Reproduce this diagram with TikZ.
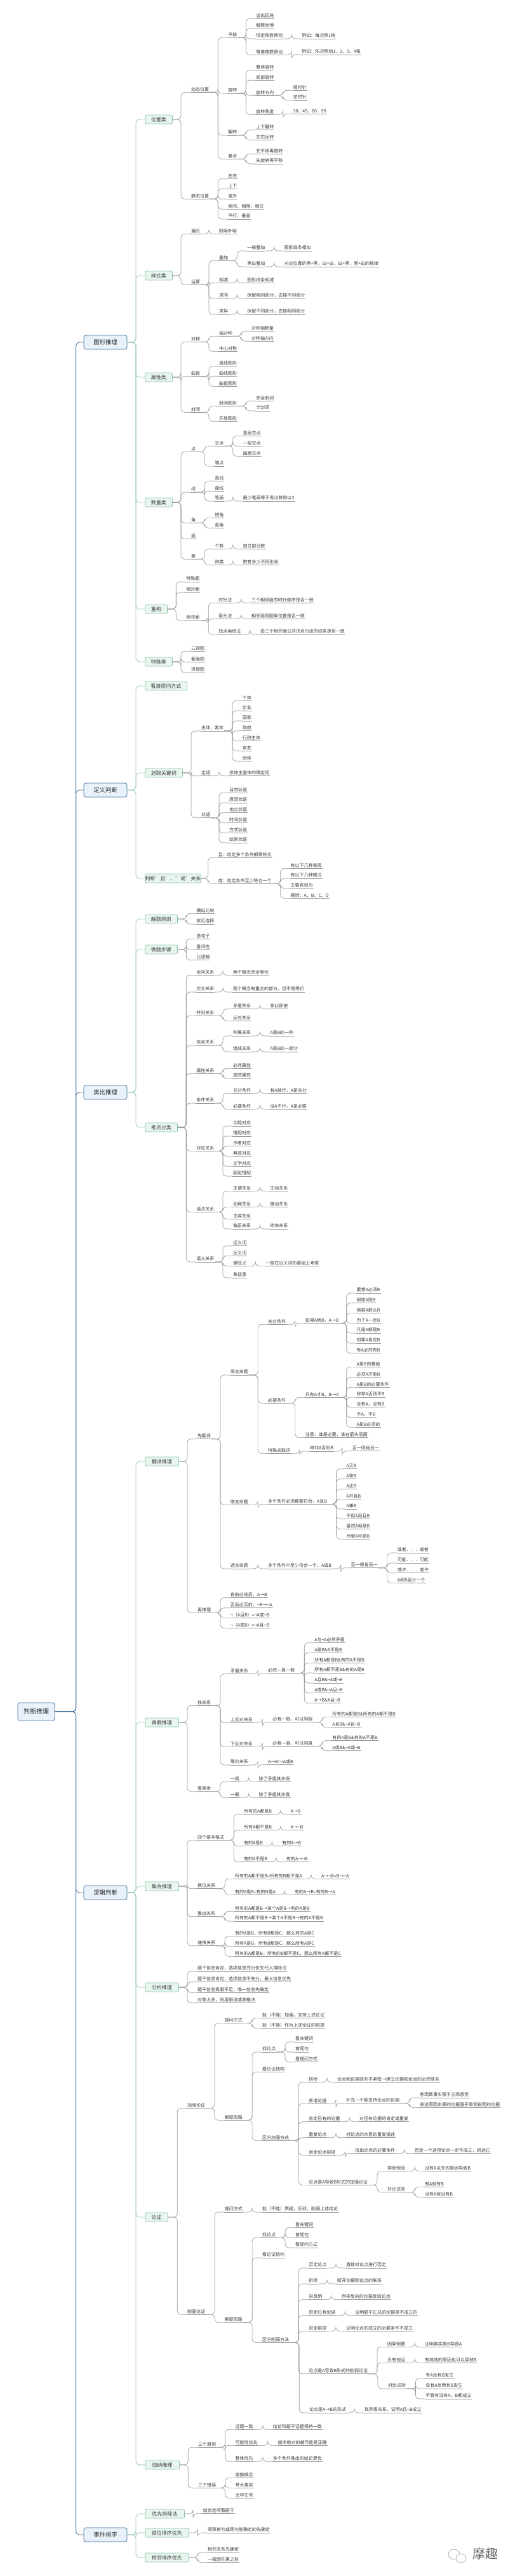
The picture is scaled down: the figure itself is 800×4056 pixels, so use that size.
\documentclass[tikz,border=0pt]{standalone}
\usepackage{fontspec}
\setmainfont{Noto Sans CJK SC}
\definecolor{txt}{HTML}{3A3A3A}
\definecolor{gline}{HTML}{9A9A9A}
\definecolor{tline}{HTML}{A3CDB6}
\definecolor{tfill}{HTML}{E8F6EF}
\definecolor{tedge}{HTML}{8FC7A8}
\definecolor{mline}{HTML}{3F6E9E}
\definecolor{mfill}{HTML}{E9F1FA}
\tikzset{
  znarrow/.style={shift={(100pt,-#1 pt)},x=0.33333pt,y=-0.33333pt},
  zwide/.style={shift={(100pt,-#1 pt)},x=0.45167pt,y=-0.33333pt},
  zfull/.style={shift={(0pt,-#1 pt)},x=0.51613pt,y=-0.33333pt},
  leaftxt/.style={anchor=south west,inner xsep=0.8pt,inner ysep=1pt,text height=6.2pt,text depth=1pt,text=txt,font=\fontsize{7}{7}\selectfont},
  uline/.style={draw=gline,line width=0.6pt},
  conn/.style={draw=gline,line width=0.7pt,rounded corners=6pt},
  topicb/.style={draw=tedge,fill=tfill,line width=0.8pt,rounded corners=2pt,minimum height=14pt,inner sep=0pt,anchor=west,text=txt,font=\fontsize{8}{8}\selectfont},
  topicconn/.style={draw=tline,line width=0.9pt,rounded corners=6pt},
  mainb/.style={draw=mline,fill=mfill,line width=0.8pt,rounded corners=3pt,minimum width=68pt,minimum height=22pt,inner sep=0pt,text=black!85,font=\fontsize{9.3}{9.3}\selectfont},
  mainconn/.style={draw=mline,line width=0.8pt,rounded corners=6pt},
}
\newcommand{\LeafN}[5]{%
  \node[leaftxt] (#1) at (#3,#4) {#5};
  \draw[uline] (#1.south west) -- (#1.south east);
  \draw[conn] (#2-o) -| ([xshift=-15pt]#1.south west) -- (#1.south west);
  \coordinate (#1-o) at (#1.south east);}
\newcommand{\MainB}[4]{%
  \node[mainb] (#1) at (#2,#3) {#4};
  \draw[mainconn] (root.east) -| ([xshift=-12pt]#1.west) -- (#1.west);}
\newcommand{\TopicB}[5]{%
  \node[topicb,minimum width=#4pt] (#1) at (228,#3) {#5};
  \draw[topicconn] (#2.east) -| ([xshift=-14pt]#1.west) -- (#1.west);
  \coordinate (#1-o) at (#1.east);}
\begin{document}
\begin{tikzpicture}[x=1pt,y=-1pt]
\useasboundingbox (0,0) rectangle (800,4056);
\fill[white] (0,0) rectangle (800,4056);
\node[mainb,minimum width=58pt,minimum height=28pt,font=\fontsize{10}{10}\selectfont] (root) at (57,2695) {判断推理};
\MainB{mA}{166}{539}{图形推理}
\MainB{mB}{166}{1244}{定义判断}
\MainB{mC}{166}{1720}{类比推理}
\MainB{mD}{166}{2980}{逻辑判断}
\MainB{mE}{166}{3991}{事件排序}
\TopicB{wz}{mA}{188}{43}{位置类}
\TopicB{ys}{mA}{434}{43}{样式类}
\TopicB{sx}{mA}{594}{43}{属性类}
\TopicB{sl}{mA}{791}{43}{数量类}
\TopicB{cg}{mA}{959}{35}{重构}
\TopicB{ts}{mA}{1042}{43}{特殊类}
\TopicB{kq}{mB}{1080}{66}{看清提问方式}
\TopicB{hq}{mB}{1217}{59}{划取关键词}
\TopicB{pd}{mB}{1383}{85}{判断'且'、'或'关系}
\TopicB{jt}{mC}{1447}{51}{解题原则}
\TopicB{zt}{mC}{1495}{51}{做题步骤}
\TopicB{kd}{mC}{1775}{51}{考点分类}
\TopicB{fy}{mD}{2301}{53}{翻译推理}
\TopicB{zj}{mD}{2712}{53}{真假推理}
\TopicB{jh}{mD}{2970}{53}{集合推理}
\TopicB{fx}{mD}{3129}{53}{分析推理}
\TopicB{lz}{mD}{3491}{36}{论证}
\TopicB{gn}{mD}{3881}{54}{归纳推理}
\TopicB{yx}{mE}{3958}{62}{优先排除法}
\TopicB{sw}{mE}{3988}{69}{首位排序优先}
\TopicB{xl}{mE}{4027}{69}{相邻排序优先}

\begin{scope}[znarrow=0]
\LeafN{dt}{wz}{600}{436}{动态位置}
\LeafN{py}{dt}{775}{178}{平移}
\LeafN{py1}{py}{907}{88}{溢出回底}
\LeafN{py2}{py}{907}{135}{触壁反弹}
\LeafN{py3}{py}{907}{183}{恒定格数移动}
\LeafN{py3a}{py3}{1123}{183}{例如：每次移1格}
\LeafN{py4}{py}{907}{259}{等差格数移动}
\LeafN{py4a}{py4}{1123}{258}{例如：依次移动1、2、3、4格}
\LeafN{xz}{dt}{775}{441}{旋转}
\LeafN{xz1}{xz}{907}{332}{整体旋转}
\LeafN{xz2}{xz}{907}{379}{局部旋转}
\LeafN{xz3}{xz}{907}{451}{旋转方向}
\LeafN{xz3a}{xz3}{1082}{427}{顺时针}
\LeafN{xz3b}{xz3}{1082}{474}{逆时针}
\LeafN{xz4}{xz}{907}{541}{旋转角度}
\LeafN{xz4a}{xz4}{1082}{538}{30、45、60、90}
\LeafN{fz}{dt}{775}{639}{翻转}
\LeafN{fz1}{fz}{907}{614}{上下翻转}
\LeafN{fz2}{fz}{907}{661}{左右反转}
\LeafN{fh}{dt}{775}{751}{复合}
\LeafN{fh1}{fh}{907}{727}{先平移再旋转}
\LeafN{fh2}{fh}{907}{774}{先旋转再平移}
\LeafN{jtw}{wz}{600}{940}{静态位置}
\LeafN{jt1}{jtw}{775}{845}{左右}
\LeafN{jt2}{jtw}{775}{892}{上下}
\LeafN{jt3}{jtw}{775}{940}{里外}
\LeafN{jt4}{jtw}{775}{988}{相邻、相隔、相交}
\LeafN{jt5}{jtw}{775}{1035}{平行、垂直}
\end{scope}

\begin{scope}[znarrow=340]
\LeafN{bl}{ys}{600}{85}{遍历}
\LeafN{bl1}{bl}{732}{85}{缺啥补啥}
\LeafN{ys2}{ys}{600}{325}{运算}
\LeafN{dj}{ys2}{732}{211}{叠加}
\LeafN{dj1}{dj}{865}{165}{一般叠加}
\LeafN{dj1a}{dj1}{1040}{165}{图形线条相加}
\LeafN{dj2}{dj}{865}{240}{黑白叠加}
\LeafN{dj2a}{dj2}{1040}{240}{对应位置的黑+黑，白+白，白+黑，黑+白的规律}
\LeafN{xj}{ys2}{732}{316}{相减}
\LeafN{xj1}{xj}{865}{316}{图形线条相减}
\LeafN{qt}{ys2}{732}{390}{求同}
\LeafN{qt1}{qt}{865}{390}{保留相同部分，去掉不同部分}
\LeafN{qy}{ys2}{732}{465}{求异}
\LeafN{qy1}{qy}{865}{465}{保留不同部分，去掉相同部分}
\LeafN{dc}{sx}{600}{595}{对称}
\LeafN{zdc}{dc}{732}{568}{轴对称}
\LeafN{zdc1}{zdc}{885}{544}{对称轴数量}
\LeafN{zdc2}{zdc}{885}{592}{对称轴方向}
\LeafN{zx}{dc}{732}{640}{中心对称}
\LeafN{qz}{sx}{600}{758}{曲直}
\LeafN{qz1}{qz}{732}{710}{直线图形}
\LeafN{qz2}{qz}{732}{757}{曲线图形}
\LeafN{qz3}{qz}{732}{805}{曲直图形}
\LeafN{fb}{sx}{600}{928}{封闭}
\LeafN{fb1}{fb}{732}{898}{封闭图形}
\LeafN{fb1a}{fb1}{907}{874}{完全封闭}
\LeafN{fb1b}{fb1}{907}{921}{半封闭}
\LeafN{fb2}{fb}{732}{970}{开放图形}
\end{scope}

\begin{scope}[znarrow=680]
\LeafN{dn}{sl}{600}{94}{点}
\LeafN{jd}{dn}{712}{67}{交点}
\LeafN{jd1}{jd}{845}{19}{直面交点}
\LeafN{jd2}{jd}{845}{67}{一般交点}
\LeafN{jd3}{jd}{845}{115}{曲面交点}
\LeafN{dd}{dn}{712}{162}{端点}
\LeafN{xn}{sl}{600}{285}{线}
\LeafN{xn1}{xn}{712}{232}{直线}
\LeafN{xn2}{xn}{712}{280}{曲线}
\LeafN{xn3}{xn}{712}{327}{笔画}
\LeafN{xn3a}{xn3}{845}{327}{最少笔画等于奇点数除以2}
\LeafN{jn}{sl}{600}{430}{角}
\LeafN{jn1}{jn}{712}{406}{锐角}
\LeafN{jn2}{jn}{712}{454}{直角}
\LeafN{mn}{sl}{600}{505}{面}
\LeafN{sn}{sl}{600}{601}{素}
\LeafN{sn1}{sn}{712}{553}{个数}
\LeafN{sn1a}{sn1}{845}{553}{独立部分数}
\LeafN{sn2}{sn}{712}{629}{种类}
\LeafN{sn2a}{sn2}{845}{629}{数有多少不同形状}
\LeafN{cg1}{cg}{577}{708}{特殊面}
\LeafN{cg2}{cg}{577}{758}{相对面}
\LeafN{cg3}{cg}{577}{891}{相邻面}
\LeafN{sz}{cg3}{730}{808}{时针法}
\LeafN{sz1}{sz}{885}{808}{三个相邻面的时针顺序是否一致}
\LeafN{jtf}{cg3}{730}{883}{箭头法}
\LeafN{jtf1}{jtf}{885}{883}{相邻面同图案位置是否一致}
\LeafN{zdf}{cg3}{730}{957}{找点画线法}
\LeafN{zdf1}{zdf}{927}{957}{由三个相邻面公共顶点引出的线条是否一致}
\end{scope}

\begin{scope}[znarrow=1020]
\LeafN{ts1}{ts}{600}{16}{三视图}
\LeafN{ts2}{ts}{600}{67}{截面图}
\LeafN{ts3}{ts}{600}{117}{拼接图}
\LeafN{zk}{hq}{648}{393}{主体，客体}
\LeafN{zk1}{zk}{843}{250}{个体}
\LeafN{zk2}{zk}{843}{297}{企业}
\LeafN{zk3}{zk}{843}{345}{国家}
\LeafN{zk4}{zk}{843}{392}{政府}
\LeafN{zk5}{zk}{843}{440}{行政主体}
\LeafN{zk6}{zk}{843}{487}{亲友}
\LeafN{zk7}{zk}{843}{535}{团体}
\LeafN{dy}{hq}{648}{605}{定语}
\LeafN{dy1}{dy}{780}{605}{修饰主客体的限定词}
\LeafN{zy}{hq}{648}{803}{状语}
\LeafN{zy1}{zy}{780}{685}{目的状语}
\LeafN{zy2}{zy}{780}{732}{原因状语}
\LeafN{zy3}{zy}{780}{779}{地点状语}
\LeafN{zy4}{zy}{780}{827}{时间状语}
\LeafN{zy5}{zy}{780}{874}{方式状语}
\LeafN{zy6}{zy}{780}{921}{结果状语}
\end{scope}

\begin{scope}[znarrow=1360]
\LeafN{qie}{pd}{728}{-29}{且：给定多个条件都需符合}
\LeafN{huo}{pd}{728}{94}{或：给定条件至少符合一个}
\LeafN{huo1}{huo}{1070}{22}{有以下几种表现}
\LeafN{huo2}{huo}{1070}{69}{有以下几种情况}
\LeafN{huo3}{huo}{1070}{116}{主要表现为}
\LeafN{huo4}{huo}{1070}{163}{概括：A、B、C、D}
\LeafN{jt1a}{jt}{625}{235}{横纵比较}
\LeafN{jt2a}{jt}{625}{285}{就近选择}
\LeafN{zt1}{zt}{625}{355}{造句子}
\LeafN{zt2}{zt}{625}{406}{看词性}
\LeafN{zt3}{zt}{625}{455}{比逻辑}
\LeafN{qtg}{kd}{625}{526}{全同关系}
\LeafN{qtg1}{qtg}{798}{526}{两个概念完全等价}
\LeafN{jc}{kd}{625}{606}{交叉关系}
\LeafN{jc1}{jc}{798}{606}{两个概念有重合的部分，但不是等价}
\LeafN{bl2}{kd}{625}{718}{并列关系}
\LeafN{md}{bl2}{798}{686}{矛盾关系}
\LeafN{md1}{md}{973}{686}{非此即彼}
\LeafN{fd}{bl2}{798}{742}{反对关系}
\LeafN{bh}{kd}{625}{858}{包含关系}
\LeafN{zs}{bh}{798}{813}{种属关系}
\LeafN{zs1}{zs}{973}{813}{A是B的一种}
\LeafN{zc}{bh}{798}{888}{组成关系}
\LeafN{zc1}{zc}{973}{888}{A是B的一部分}
\LeafN{sxg}{kd}{625}{991}{属性关系}
\LeafN{sxg1}{sxg}{798}{967}{必然属性}
\LeafN{sxg2}{sxg}{798}{1014}{或然属性}
\end{scope}

\begin{scope}[znarrow=1700]
\LeafN{tj}{kd}{625}{111}{条件关系}
\LeafN{tj1}{tj}{798}{64}{充分条件}
\LeafN{tj1a}{tj1}{973}{64}{有A就行，A是充分}
\LeafN{tj2}{tj}{798}{139}{必要条件}
\LeafN{tj2a}{tj2}{973}{139}{没A不行，A是必要}
\LeafN{dyg}{kd}{625}{337}{对应关系}
\LeafN{dyg1}{dyg}{798}{219}{功能对应}
\LeafN{dyg2}{dyg}{798}{267}{搭配对应}
\LeafN{dyg3}{dyg}{798}{314}{作者对应}
\LeafN{dyg4}{dyg}{798}{361}{典故对应}
\LeafN{dyg5}{dyg}{798}{409}{文学对应}
\LeafN{dyg6}{dyg}{798}{456}{固定搭配}
\LeafN{yf}{kd}{625}{625}{语法关系}
\LeafN{yf1}{yf}{798}{526}{主谓关系}
\LeafN{yf1a}{yf1}{973}{526}{主动关系}
\LeafN{yf2}{yf}{798}{601}{动宾关系}
\LeafN{yf2a}{yf2}{973}{601}{被动关系}
\LeafN{yf3}{yf}{798}{658}{主宾关系}
\LeafN{yf4}{yf}{798}{705}{偏正关系}
\LeafN{yf4a}{yf4}{973}{705}{修饰关系}
\LeafN{yy}{kd}{625}{861}{语义关系}
\LeafN{yy1}{yy}{798}{785}{近义词}
\LeafN{yy2}{yy}{798}{832}{反义词}
\LeafN{yy3}{yy}{798}{880}{褒贬义}
\LeafN{yy3a}{yy3}{952}{880}{一般在近义词的基础上考察}
\LeafN{yy4}{yy}{798}{936}{象征意}
\end{scope}

\begin{scope}[zwide=2040]
\LeafN{xfy}{fy}{465}{677}{先翻译}
\LeafN{jy}{xfy}{580}{375}{假言命题}
\LeafN{cf}{jy}{711}{136}{充分条件}
\LeafN{cfa}{cf}{841}{130}{如果A就B，A→B}
\LeafN{cf0}{cfa}{1020}{-12}{要想A必须B}
\LeafN{cf1}{cfa}{1020}{35}{假如A则B}
\LeafN{cf2}{cfa}{1020}{82}{倘若A那么B}
\LeafN{cf3}{cfa}{1020}{130}{为了A一定B}
\LeafN{cf4}{cfa}{1020}{177}{凡是A都是B}
\LeafN{cf5}{cfa}{1020}{225}{如果A肯定B}
\LeafN{cf6}{cfa}{1020}{272}{有A必然有B}
\LeafN{by}{jy}{711}{508}{必要条件}
\LeafN{bya}{by}{841}{481}{只有A才B，B→A}
\LeafN{by1}{bya}{1020}{337}{A是B的基础}
\LeafN{by2}{bya}{1020}{385}{必须A才能B}
\LeafN{by3}{bya}{1020}{433}{A是B的必要条件}
\LeafN{by4}{bya}{1020}{480}{除非A否则不B}
\LeafN{by5}{bya}{1020}{527}{没有A，没有B}
\LeafN{by6}{bya}{1020}{575}{不A，不B}
\LeafN{by7}{bya}{1020}{622}{A是B必须的}
\LeafN{byb}{by}{841}{670}{注意：谁是必要，谁在箭头后面}
\LeafN{tsg}{jy}{711}{745}{特殊关联词}
\LeafN{tsg1}{tsg}{857}{735}{除非A否则B}
\LeafN{tsg2}{tsg1}{1005}{734}{否一则肯另一}
\LeafN{ly}{xfy}{580}{988}{联言命题}
\LeafN{lya}{ly}{711}{985}{多个条件必须都要符合，A且B}
\LeafN{ly1}{lya}{984}{818}{A又B}
\LeafN{ly2}{lya}{984}{866}{A和B}
\LeafN{ly3}{lya}{984}{914}{A还B}
\LeafN{ly4}{lya}{984}{961}{A并且B}
\LeafN{ly5}{lya}{984}{1008}{A兼B}
\end{scope}

\begin{scope}[zwide=2380]
\LeafN{ly6}{lya}{984}{35}{不但A而且B}
\LeafN{ly7}{lya}{984}{82}{虽然A但是B}
\LeafN{ly8}{lya}{984}{130}{尽管A可是B}
\LeafN{xy}{xfy}{580}{270}{选言命题}
\LeafN{xya}{xy}{711}{270}{多个条件中至少符合一个，A或B}
\LeafN{xyb}{xya}{1000}{266}{否一得肯另一}
\LeafN{xy1}{xyb}{1162}{195}{或者．．．或者}
\LeafN{xy2}{xyb}{1162}{243}{可能．．．可能}
\LeafN{xy3}{xyb}{1162}{290}{或许．．．或许}
\LeafN{xy4}{xyb}{1162}{337}{A和B至少一个}
\LeafN{ztl}{fy}{465}{478}{再推理}
\LeafN{ztl1}{ztl}{580}{407}{肯前必肯后，A→B}
\LeafN{ztl2}{ztl}{580}{455}{否后必否前，¬B→¬A}
\LeafN{ztl3}{ztl}{580}{502}{¬（A且B）=¬A或¬B}
\LeafN{ztl4}{ztl}{580}{550}{¬（A或B）=¬A且¬B}
\LeafN{zgx}{zj}{465}{916}{找关系}
\LeafN{mdg}{zgx}{580}{767}{矛盾关系}
\LeafN{mdga}{mdg}{711}{763}{必然一真一假}
\LeafN{mdg1}{mdga}{873}{620}{A与¬A必然矛盾}
\LeafN{mdg2}{mdga}{873}{667}{A是B\&A不是B}
\LeafN{mdg3}{mdga}{873}{715}{所有A都是B\&有的A不是B}
\LeafN{mdg4}{mdga}{873}{762}{所有A都不是B\&有的A是B}
\LeafN{mdg5}{mdga}{873}{810}{A且B\&¬A或¬B}
\LeafN{mdg6}{mdga}{873}{857}{A或B\&¬A且¬B}
\LeafN{mdg7}{mdga}{873}{905}{A→B\&A且¬B}
\LeafN{sfd}{zgx}{580}{997}{上反对关系}
\LeafN{sfda}{sfd}{727}{995}{必有一假，可以同假}
\LeafN{sfd1}{sfda}{935}{970}{所有的A都是B\&所有的A都不是B}
\LeafN{sfd2}{sfda}{935}{1018}{A且B\&¬A且¬B}
\end{scope}

\begin{scope}[zwide=2720]
\LeafN{xfd}{zgx}{580}{91}{下反对关系}
\LeafN{xfda}{xfd}{727}{88}{必有一真，可以同真}
\LeafN{xfd1}{xfda}{935}{62}{有的A是B\&有的A不是B}
\LeafN{xfd2}{xfda}{935}{110}{A或B\&¬A或¬B}
\LeafN{djg}{zgx}{580}{177}{等价关系}
\LeafN{djg1}{djg}{711}{176}{A→B=¬A或B}
\LeafN{kqy}{zj}{465}{302}{看其余}
\LeafN{yz}{kqy}{580}{256}{一真}
\LeafN{yz1}{yz}{679}{256}{除了矛盾其余假}
\LeafN{yj}{kqy}{580}{331}{一假}
\LeafN{yj1}{yj}{679}{331}{除了矛盾其余真}
\LeafN{sg}{jh}{465}{532}{四个基本格式}
\LeafN{sg1}{sg}{627}{410}{所有的A都是B}
\LeafN{sg1a}{sg1}{790}{410}{A→B}
\LeafN{sg2}{sg}{627}{485}{所有A都不是B}
\LeafN{sg2a}{sg2}{790}{485}{A→¬B}
\LeafN{sg3}{sg}{627}{560}{有的A是B}
\LeafN{sg3a}{sg3}{760}{560}{有的A→B}
\LeafN{sg4}{sg}{627}{635}{有的A不是B}
\LeafN{sg4a}{sg4}{775}{635}{有的A→¬B}
\LeafN{hw}{jh}{465}{761}{换位关系}
\LeafN{hw1}{hw}{596}{715}{所有的A都不是B=所有的B都不是A}
\LeafN{hw1a}{hw1}{897}{715}{A→¬B=B→¬A}
\LeafN{hw2}{hw}{596}{790}{有的A是B=有的B是A}
\LeafN{hw2a}{hw2}{804}{790}{有的A→B=有的B→A}
\LeafN{tc}{jh}{465}{893}{推出关系}
\LeafN{tc1}{tc}{596}{868}{所有的A都是B→某个A是B→有的A是B}
\LeafN{tc2}{tc}{596}{915}{所有的A都不是B→某个A不是B→有的A不是B}
\LeafN{dt2}{jh}{465}{1031}{递推关系}
\LeafN{dt2a}{dt2}{596}{986}{有的A是B，所有B都是C，那么有的A是C}
\LeafN{dt2b}{dt2}{596}{1034}{所有A是B，所有B都是C，那么所有A是C}
\end{scope}

\begin{scope}[zwide=3060]
\LeafN{dt2c}{dt2}{596}{61}{所有的A都是B，所有的B都不是C，那么所有A都不是C}
\LeafN{fx1}{fx}{465}{132}{题干信息肯定，选项信息充分优先代入排除法}
\LeafN{fx2}{fx}{465}{182}{题干信息肯定，选项信息不充分，最大信息优先}
\LeafN{fx3}{fx}{465}{232}{题干信息真假不足，唯一信息先确定}
\LeafN{fx4}{fx}{465}{281}{对象太多，利用假设或表格法}
\LeafN{jq}{lz}{430}{778}{加强论证}
\LeafN{jq1}{jq}{560}{376}{提问方式}
\LeafN{jq1a}{jq1}{691}{352}{能（不能）加强，支持上述论证}
\LeafN{jq1b}{jq1}{691}{400}{能（不能）作为上述论证的前提}
\LeafN{jq2}{jq}{560}{835}{解题思路}
\LeafN{jq21}{jq2}{691}{513}{找论点}
\LeafN{jq21a}{jq21}{806}{465}{看关键词}
\LeafN{jq21b}{jq21}{806}{513}{首尾句}
\LeafN{jq21c}{jq21}{806}{560}{看提问方式}
\LeafN{jq22}{jq2}{691}{607}{看论证结构}
\LeafN{jq23}{jq2}{691}{931}{区分加强方式}
\LeafN{jqa}{jq23}{853}{655}{搭桥}
\LeafN{jqa1}{jqa}{952}{655}{论点和论据联系不紧密→建立论据和论点的必然联系}
\LeafN{jqb}{jq23}{853}{757}{新增论据}
\LeafN{jqb1}{jqb}{983}{755}{补充一个能支持论点的论据}
\LeafN{jqb2}{jqb1}{1240}{729}{客观数事实强于主观感觉}
\LeafN{jqb3}{jqb1}{1240}{776}{表述原因本质的论据强于事例说明的论据}
\LeafN{jqc}{jq23}{853}{842}{肯定已有的论据}
\LeafN{jqc1}{jqc}{1030}{842}{对已有论据的肯定或重复}
\LeafN{jqd}{jq23}{853}{917}{重复论点}
\LeafN{jqd1}{jqd}{983}{917}{对论点的大意的重复描述}
\LeafN{jqe}{jq23}{853}{1000}{肯定论点前提}
\LeafN{jqe1}{jqe}{1015}{992}{找出论点的必要条件}
\LeafN{jqe2}{jqe1}{1222}{992}{否定一个选项论点一定不成立，则选它}
\end{scope}

\begin{scope}[zwide=3400]
\LeafN{jqf}{jq23}{853}{121}{论点是A导致B形式的加强论证}
\LeafN{jqf1}{jqf}{1127}{55}{排除他因}
\LeafN{jqf1a}{jqf1}{1258}{55}{没有A以外的原因导致B}
\LeafN{jqf2}{jqf}{1127}{155}{对比试验}
\LeafN{jqf2a}{jqf2}{1258}{130}{有A就有B}
\LeafN{jqf2b}{jqf2}{1258}{178}{没有A就没有B}
\LeafN{xr}{lz}{430}{733}{削弱论证}
\LeafN{xr1}{xr}{560}{249}{提问方式}
\LeafN{xr1a}{xr1}{691}{249}{能（不能）质疑，反驳，削弱上述结论}
\LeafN{xr2}{xr}{560}{770}{解题思路}
\LeafN{xr21}{xr2}{691}{370}{找论点}
\LeafN{xr21a}{xr21}{806}{322}{看关键词}
\LeafN{xr21b}{xr21}{806}{370}{首尾句}
\LeafN{xr21c}{xr21}{806}{417}{看提问方式}
\LeafN{xr22}{xr2}{691}{465}{看论证结构}
\LeafN{xr23}{xr2}{691}{865}{区分削弱方法}
\LeafN{xra}{xr23}{853}{513}{否定论点}
\LeafN{xra1}{xra}{983}{513}{直接对论点进行否定}
\LeafN{xrb}{xr23}{853}{588}{拆桥}
\LeafN{xrb1}{xrb}{952}{588}{断开论据和论点的联系}
\LeafN{xrc}{xr23}{853}{662}{举反例}
\LeafN{xrc1}{xrc}{967}{662}{列举反向的论据反驳论点}
\LeafN{xrd}{xr23}{853}{737}{否定已有论据}
\LeafN{xrd1}{xrd}{1015}{737}{证明题干汇总的论据是不成立的}
\LeafN{xre}{xr23}{853}{811}{否定前提}
\LeafN{xre1}{xre}{983}{811}{证明论点的成立的必要条件不成立}
\LeafN{xrf}{xr23}{853}{1013}{论点是A导致B形式的削弱论证}
\LeafN{xrf1}{xrf}{1127}{886}{因果倒置}
\LeafN{xrf1a}{xrf1}{1258}{886}{证明其实是B导致A}
\LeafN{xrf2}{xrf}{1127}{961}{另有他因}
\LeafN{xrf2a}{xrf2}{1258}{961}{有其他的原因也可以导致B}
\LeafN{xrf3}{xrf}{1129}{1083}{对比试验}
\end{scope}

\begin{scope}[zfull=3716]
\LeafN{xrf3a}{xrf3}{1297}{87}{有A没有B发生}
\LeafN{xrf3b}{xrf3}{1297}{135}{没有A反而有B发生}
\LeafN{xrf3c}{xrf3}{1297}{183}{不管有没有A，B都成立}
\LeafN{xrg}{xr23}{942}{249}{论点是A→B的形式}
\LeafN{xrg1}{xrg}{1110}{249}{找矛盾关系，证明A且¬B成立}
\LeafN{gn1}{gn}{603}{412}{三个原则}
\LeafN{gn1a}{gn1}{716}{328}{话题一致}
\LeafN{gn1a1}{gn1a}{831}{328}{结论和题干话题保持一致}
\LeafN{gn1b}{gn1}{716}{403}{可能性优先}
\LeafN{gn1b1}{gn1b}{846}{403}{越非绝对的越可能是正确}
\LeafN{gn1c}{gn1}{716}{478}{整体优先}
\LeafN{gn1c1}{gn1c}{831}{478}{多个条件推出的结论更优}
\LeafN{gn2}{gn}{603}{604}{三个错误}
\LeafN{gn2a}{gn2}{716}{556}{偷换概念}
\LeafN{gn2b}{gn2}{716}{604}{夸大事实}
\LeafN{gn2c}{gn2}{716}{652}{无中生有}
\LeafN{yx1}{yx}{618}{725}{结合选项看题干}
\LeafN{sw1}{sw}{632}{816}{观察首句或尾句能确定的先确定}
\LeafN{xl1}{xl}{632}{907}{相邻关系先确定}
\LeafN{xl2}{xl}{632}{956}{一般因在果之前}
\end{scope}

% watermark
\draw[black!45,line width=0.5pt] (715,4022) ellipse (9pt and 8pt);
\draw[black!45,line width=0.5pt,fill=white] (726,4028) ellipse (8pt and 7pt);
\node[text=black!60,font=\fontsize{20}{20}\selectfont,inner sep=0pt] (wm) at (764,4021) {摩趣};
\end{tikzpicture}
\end{document}
